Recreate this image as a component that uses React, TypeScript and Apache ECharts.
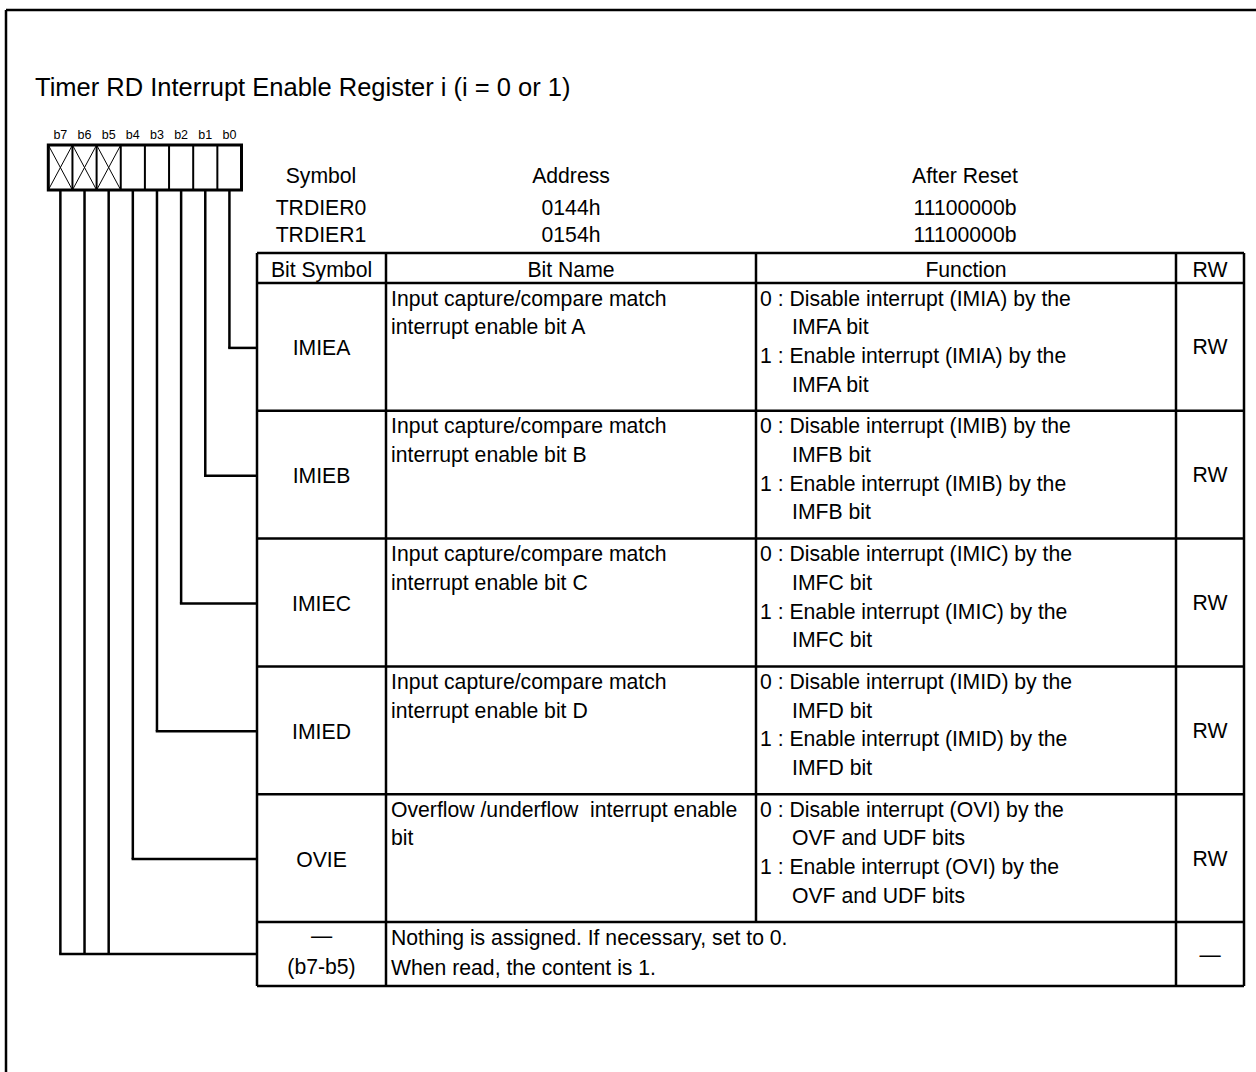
import React, { useEffect, useRef } from "react";
import * as echarts from "echarts";

// ---------- content ----------
const TITLE = "Timer RD Interrupt Enable Register i (i = 0 or 1)";
const BIT_LABELS = ["b7", "b6", "b5", "b4", "b3", "b2", "b1", "b0"];
const RESERVED_BITS = [true, true, true, false, false, false, false, false];
const INFO_HEADERS = ["Symbol", "Address", "After Reset"];
const REG_SYMBOLS = ["TRDIER0", "TRDIER1"];
const REG_ADDRESSES = ["0144h", "0154h"];
const REG_RESET = ["11100000b", "11100000b"];
const TABLE_HEADERS = ["Bit Symbol", "Bit Name", "Function", "RW"];
const BIT_SYMBOLS = ["IMIEA", "IMIEB", "IMIEC", "IMIED", "OVIE"];
// bit index (0 = b0) that each row is wired to
const ROW_BITS = [0, 1, 2, 3, 4];
const BIT_NAMES = [
  ["Input capture/compare match", "interrupt enable bit A"],
  ["Input capture/compare match", "interrupt enable bit B"],
  ["Input capture/compare match", "interrupt enable bit C"],
  ["Input capture/compare match", "interrupt enable bit D"],
  ["Overflow /underflow  interrupt enable", "bit"],
];
const FUNCTIONS = [
  ["0 : Disable interrupt (IMIA) by the", "IMFA bit", "1 : Enable interrupt (IMIA) by the", "IMFA bit"],
  ["0 : Disable interrupt (IMIB) by the", "IMFB bit", "1 : Enable interrupt (IMIB) by the", "IMFB bit"],
  ["0 : Disable interrupt (IMIC) by the", "IMFC bit", "1 : Enable interrupt (IMIC) by the", "IMFC bit"],
  ["0 : Disable interrupt (IMID) by the", "IMFD bit", "1 : Enable interrupt (IMID) by the", "IMFD bit"],
  ["0 : Disable interrupt (OVI) by the", "OVF and UDF bits", "1 : Enable interrupt (OVI) by the", "OVF and UDF bits"],
];
const RW_VALUES = ["RW", "RW", "RW", "RW", "RW"];
const RESERVED_SYMBOL = ["—", "(b7-b5)"];
const RESERVED_NAME = ["Nothing is assigned. If necessary, set to 0.", "When read, the content is 1."];
const RESERVED_RW = "—";

// ---------- layout ----------
const W = 1256;
const H = 1072;
const FONT = "'Liberation Sans', Arial, Helvetica, sans-serif";
const BOX_X = 48.3;
const BOX_Y = 145;
const BOX_H = 45;
const CELL_W = 24.15;
const COLS = [257, 386, 756, 1176, 1244];
const TABLE_TOP = 253;
const HEADER_H = 30;
const ROW_H = 127.8;
const LAST_ROW_H = 64;
const LINE_STEP = 28.7;
const FS = 21.2;

function txt(text: string, x: number, y: number, opts: any = {}) {
  return {
    type: "text",
    x,
    y,
    style: {
      text,
      fontSize: opts.fontSize || FS,
      fontFamily: FONT,
      fill: "#000",
      align: opts.align || "left",
      verticalAlign: "middle",
    },
  };
}
function ln(x1: number, y1: number, x2: number, y2: number, w = 2.5) {
  return { type: "line", shape: { x1, y1, x2, y2 }, style: { stroke: "#000", lineWidth: w } };
}

function buildGraphics() {
  const g: any[] = [];
  // outer frame
  g.push(ln(6, 10, W + 2, 10, 2.5));
  g.push(ln(6, 10, 6, H + 2, 2.5));
  // title
  g.push(txt(TITLE, 35, 87, { fontSize: 25.5 }));

  // register box
  const bitX = (i: number) => BOX_X + CELL_W * (i + 0.5);
  BIT_LABELS.forEach((b, i) => {
    g.push(txt(b, bitX(i), 135, { fontSize: 12.5, align: "center" }));
    if (i > 0) g.push(ln(BOX_X + CELL_W * i, BOX_Y, BOX_X + CELL_W * i, BOX_Y + BOX_H, 2));
    if (RESERVED_BITS[i]) {
      const x0 = BOX_X + CELL_W * i;
      g.push(ln(x0, BOX_Y, x0 + CELL_W, BOX_Y + BOX_H, 1));
      g.push(ln(x0 + CELL_W, BOX_Y, x0, BOX_Y + BOX_H, 1));
    }
  });
  g.push({
    type: "rect",
    shape: { x: BOX_X, y: BOX_Y, width: CELL_W * 8, height: BOX_H },
    style: { fill: "none", stroke: "#000", lineWidth: 3 },
  });

  // info block
  const infoX = [321, 571, 965];
  const infoCols = [REG_SYMBOLS, REG_ADDRESSES, REG_RESET];
  INFO_HEADERS.forEach((h, c) => {
    g.push(txt(h, infoX[c], 175, { align: "center" }));
    infoCols[c].forEach((v, r) => g.push(txt(v, infoX[c], 207.5 + r * 26.5, { align: "center" })));
  });

  // table rows
  const rowTops: number[] = [TABLE_TOP + HEADER_H];
  for (let i = 0; i < BIT_SYMBOLS.length; i++) rowTops.push(rowTops[i] + ROW_H);
  const lastTop = rowTops[BIT_SYMBOLS.length];
  const tableBottom = lastTop + LAST_ROW_H;

  // header texts
  TABLE_HEADERS.forEach((h, c) => {
    g.push(txt(h, (COLS[c] + COLS[c + 1]) / 2, TABLE_TOP + HEADER_H / 2 + 1, { align: "center" }));
  });

  const colMid = (c: number) => (COLS[c] + COLS[c + 1]) / 2;
  BIT_SYMBOLS.forEach((s, r) => {
    const top = rowTops[r];
    const mid = top + ROW_H / 2 + 1;
    g.push(txt(s, colMid(0), mid, { align: "center" }));
    BIT_NAMES[r].forEach((t, k) => g.push(txt(t, 391, top + 15 + k * LINE_STEP)));
    FUNCTIONS[r].forEach((t, k) => g.push(txt(t, k % 2 === 0 ? 760 : 792, top + 15 + k * LINE_STEP)));
    g.push(txt(RW_VALUES[r], colMid(3), mid - 1, { align: "center" }));
  });
  RESERVED_SYMBOL.forEach((t, k) => g.push(txt(t, colMid(0), lastTop + 13 + k * 31, { align: "center" })));
  RESERVED_NAME.forEach((t, k) => g.push(txt(t, 391, lastTop + 15 + k * 30)));
  g.push(txt(RESERVED_RW, colMid(3), lastTop + LAST_ROW_H / 2, { align: "center" }));

  // table lines
  g.push(ln(COLS[0], TABLE_TOP, COLS[4], TABLE_TOP, 2.5));
  rowTops.forEach((y) => g.push(ln(COLS[0], y, COLS[4], y, 2.5)));
  g.push(ln(COLS[0], tableBottom, COLS[4], tableBottom, 2.5));
  COLS.forEach((x, c) => {
    // the reserved row merges Bit Name and Function
    const bottom = c === 2 ? lastTop : tableBottom;
    g.push(ln(x, TABLE_TOP, x, bottom, 2.5));
  });

  // wiring from bits to rows
  const bitToX = (bitNo: number) => bitX(7 - bitNo);
  ROW_BITS.forEach((b, r) => {
    const x = bitToX(b);
    const y = rowTops[r] + ROW_H / 2 + 1;
    g.push(ln(x, BOX_Y + BOX_H, x, y, 2.5));
    g.push(ln(x - 1.25, y, COLS[0], y, 2.5));
  });
  const resY = lastTop + LAST_ROW_H / 2;
  const resBits = RESERVED_BITS.map((v, i) => (v ? i : -1)).filter((i) => i >= 0);
  resBits.forEach((i) => g.push(ln(bitX(i), BOX_Y + BOX_H, bitX(i), resY, 2.5)));
  g.push(ln(bitX(resBits[0]) - 1.25, resY, COLS[0], resY, 2.5));
  return g;
}

export default function App() {
  const ref = useRef<HTMLDivElement>(null);
  useEffect(() => {
    document.body.style.margin = "0";
    const chart = echarts.init(ref.current!, null, { renderer: "svg", width: W, height: H });
    chart.setOption({
      animation: false,
      backgroundColor: "#fff",
      graphic: { elements: buildGraphics() },
    });
    return () => chart.dispose();
  }, []);
  return <div ref={ref} style={{ position: "absolute", left: 0, top: 0, width: W, height: H }} />;
}
